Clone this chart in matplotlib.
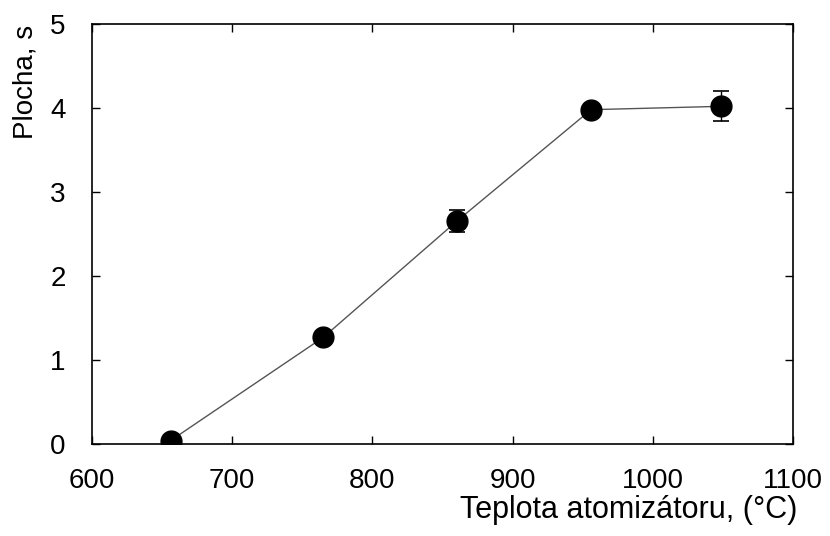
import numpy as np
import matplotlib
matplotlib.use('Agg')
import matplotlib.pyplot as plt

plt.rcParams['font.family'] = ['Liberation Sans', 'DejaVu Sans']

temp = [656, 765, 860, 956, 1049]
area = [0.04, 1.27, 2.65, 3.98, 4.02]
area_err = [0.0, 0.0, 0.13, 0.0, 0.18]

fig = plt.figure(figsize=(8.3, 5.36), dpi=100)
ax = fig.add_axes([92/830, 1 - 444/536, (793-92)/830, (444-24)/536])

t = np.array(temp)
a = np.array(area)
e = np.array(area_err)
has_err = e > 0

ax.plot(t, a, color='#555555', lw=1.0, zorder=2)
ax.errorbar(t[has_err], a[has_err], yerr=e[has_err], fmt='none', ecolor='black',
            elinewidth=1.0, capsize=5.5, capthick=1.2, zorder=3)
ax.plot(t, a, 'o', color='black', markersize=15, zorder=4)

ax.set_xlim(600, 1100)
ax.set_ylim(0, 5)
ax.set_xticks(np.arange(600, 1101, 100))
ax.set_yticks(np.arange(0, 6, 1))
ax.tick_params(direction='in', length=6, width=1, labelsize=20, top=True, right=True)
ax.tick_params(axis='x', pad=17)
ax.tick_params(axis='y', pad=19)
for s in ax.spines.values():
    s.set_linewidth(1.2)

fig.text(797/830, 1 - 518/536, 'Teplota atomizátoru, (°C)', fontsize=22,
         ha='right', va='baseline')
fig.text(26/830, 1 - 25/536, 'Plocha, s', fontsize=20, rotation=90,
         ha='center', va='top')

fig.savefig('out.png', dpi=100)
